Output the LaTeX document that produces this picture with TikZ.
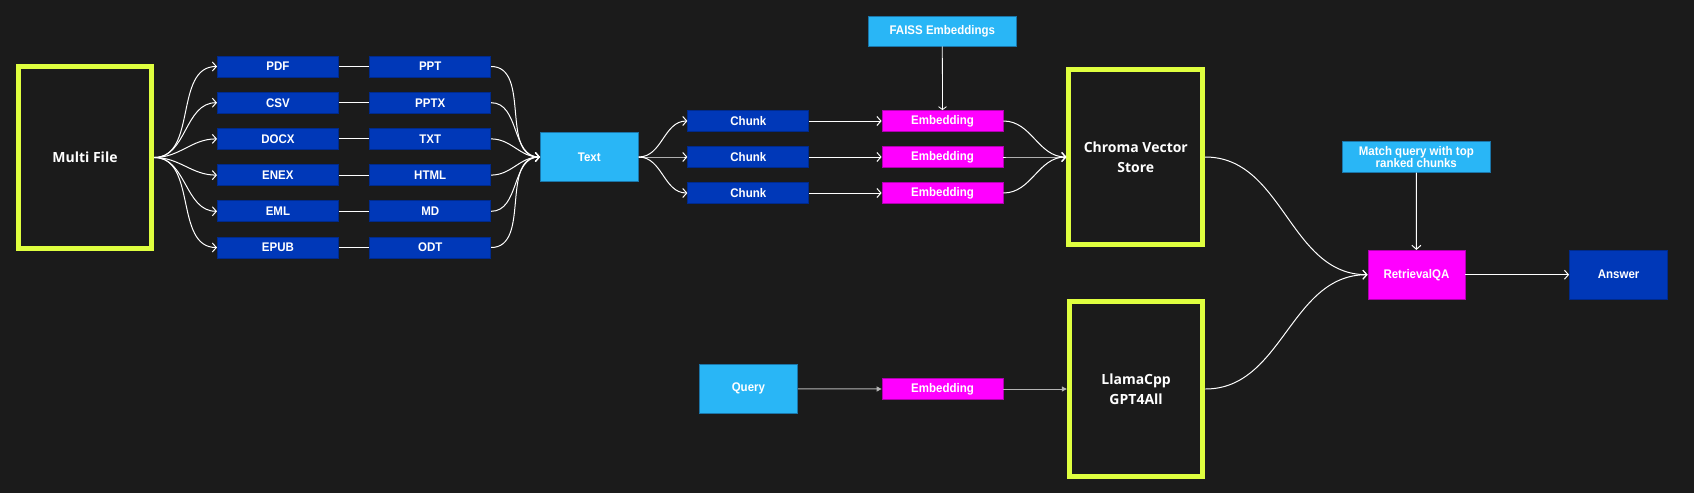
\documentclass[tikz,border=0pt]{standalone}
\usepackage{fontspec}
\setmainfont{Liberation Sans}
\newfontfamily\lblfont[FakeStretch=0.92]{Liberation Sans}
\newfontfamily\bigfont{Open Sans}
\usetikzlibrary{arrows.meta}
\definecolor{bg}{HTML}{1B1B1B}
\definecolor{dblue}{HTML}{0038B8}
\definecolor{dbluebd}{HTML}{002A8C}
\definecolor{lblue}{HTML}{29B6F6}
\definecolor{lbluebd}{HTML}{1B75A8}
\definecolor{mag}{HTML}{FF00FF}
\definecolor{magbd}{HTML}{B000B0}
\definecolor{ylw}{HTML}{DFFF3F}
\definecolor{qline}{HTML}{B4B4B4}
\begin{document}
\begin{tikzpicture}[x=1pt,y=-1pt,
  box/.style={inner sep=0pt, text=white, align=center, line width=0.8pt,
    font=\lblfont\bfseries\fontsize{12.5}{12.7}\selectfont},
  fbox/.style={box, fill=dblue, draw=dbluebd, minimum width=121pt, minimum height=21pt},
  lbbox/.style={box, fill=lblue, draw=lbluebd},
  mbox/.style={box, fill=mag, draw=magbd},
  ybox/.style={inner sep=0pt, text=white, align=center, draw=ylw, fill=bg, line width=5pt,
    font=\bigfont\bfseries\fontsize{14}{19.5}\selectfont},
  conn/.style={draw=white, line width=1pt, -{Straight Barb[length=4pt,width=9pt]}},
  plain/.style={draw=white, line width=1pt},
  qconn/.style={draw=qline, line width=1pt, -{Triangle[length=5pt,width=5pt]}},
]
\fill[bg] (0,0) rectangle (1694,493);
\useasboundingbox (0,0) rectangle (1694,493);

% Multi file
\node[ybox, minimum width=133.6pt, minimum height=182pt] (multi) at (85,157.5) {Multi File};

% file type columns
\foreach \l/\r/\i in {PDF/PPT/0, CSV/PPTX/1, DOCX/TXT/2, ENEX/HTML/3, EML/MD/4, EPUB/ODT/5}{
  \node[fbox] (L\i) at (277.9, 66.5+36.2*\i) {\l};
  \node[fbox] (R\i) at (430.2, 66.5+36.2*\i) {\r};
}

\node[lbbox, minimum width=97.8pt, minimum height=49.4pt] (text) at (589.3,157) {Text};

\foreach \i in {0,...,5}{
  \draw[conn] (multi.east) to[out=0,in=180] (L\i.west);
  \draw[plain] (L\i.east) -- (R\i.west);
  \draw[conn] (R\i.east) to[out=0,in=180] (text.west);
}

% chunks & embeddings
\foreach \y/\i in {121/0, 157/1, 193/2}{
  \node[fbox] (C\i) at (748.3,\y) {Chunk};
  \node[mbox, minimum width=121pt, minimum height=21pt] (E\i) at (942.5,\y) {Embedding};
}

\node[lbbox, minimum width=148.2pt, minimum height=30pt] (faiss) at (942.3,31) {FAISS Embeddings};

\node[ybox, minimum width=133.8pt, minimum height=174.4pt] (chroma) at (1135.8,157) {Chroma Vector\\Store};

\foreach \i in {0,1,2}{
  \draw[conn] (text.east) to[out=0,in=180] (C\i.west);
  \draw[conn] (C\i.east) -- (E\i.west);
  \draw[conn] (E\i.east) to[out=0,in=180] (chroma.west);
}
\draw[draw=white, line width=0.8pt, -{Straight Barb[length=3pt,width=8pt]}] (faiss.south) -- (E0.north);

% query branch
\node[lbbox, minimum width=98.2pt, minimum height=49pt] (query) at (748.4,388.8) {Query};
\node[mbox, minimum width=121pt, minimum height=21pt] (qemb) at (942.5,389) {Embedding};
\node[ybox, minimum width=133.6pt, minimum height=174.4pt] (llama) at (1136.1,389) {LlamaCpp\\GPT4All};
\draw[qconn] (query.east) -- (qemb.west);
\draw[qconn] (qemb.east) -- (llama.west);

% retrieval
\node[lbbox, minimum width=147.8pt, minimum height=30.6pt] (match) at (1416.3,157) {Match query with top\\ranked chunks};
\node[mbox, minimum width=97pt, minimum height=48.7pt] (rqa) at (1416.4,274.7) {RetrievalQA};
\node[fbox, minimum width=98.2pt, minimum height=48.7pt] (answer) at (1618.6,274.7) {Answer};

\draw[conn] (chroma.east) to[out=0,in=180] (rqa.west);
\draw[conn] (llama.east) to[out=0,in=180] (rqa.west);
\draw[conn] (match.south) -- (rqa.north);
\draw[conn] (rqa.east) -- (answer.west);
\end{tikzpicture}
\end{document}
